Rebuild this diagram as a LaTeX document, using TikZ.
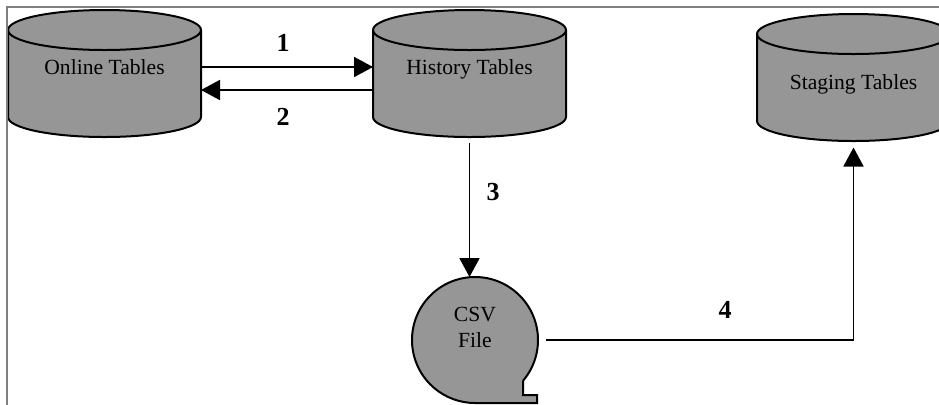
\documentclass[tikz,border=0pt]{standalone}
\usepackage{fontspec}
\setmainfont{Liberation Serif}
\usetikzlibrary{arrows.meta,backgrounds}
\definecolor{dbgray}{RGB}{150,150,150}
\definecolor{framegray}{RGB}{128,128,128}
\tikzset{
  dbtable/.style={rectangle, minimum width=96.5pt, minimum height=43.5pt,
    inner sep=0pt, outer sep=0pt, font=\fontsize{10.8}{13}\selectfont},
  dbshape/.style={fill=dbgray, draw, line width=1pt},
  csvfile/.style={circle, minimum size=63pt, inner sep=0pt, outer sep=0pt,
    align=center, font=\fontsize{10.8}{13}\selectfont},
  flow/.style={-{Triangle[length=9.5pt,width=10pt]}, line width=0.9pt},
  steplabel/.style={font=\fontsize{13}{15}\bfseries}
}
\begin{document}
\begin{tikzpicture}[x=0.5pt,y=-0.5pt]
      \useasboundingbox (0,0) rectangle (939,404);
      \clip (0,0) rectangle (939,404);
      \draw[framegray, line width=1pt] (7,410) -- (7,7) -- (945,7);
      \draw
        (104.5,73.5) node[dbtable, text height=7.5pt, text depth=6.8pt] (online){Online Tables}
        (469.5,73.5) node[dbtable, text height=7.5pt, text depth=6.8pt] (history){History Tables}
        (853.5,77.5) node[dbtable, text height=12pt, text depth=0.3pt] (staging){Staging Tables}
        (475,340) node[csvfile, text depth=13pt] (csv){CSV\\File};
      \begin{scope}[on background layer]
        \foreach \t in {online,history,staging} {
          \filldraw[dbshape] (\t.north west) -- (\t.south west)
            arc[start angle=180, end angle=360, x radius=48.25pt, y radius=10pt]
            -- (\t.north east)
            arc[start angle=0, end angle=180, x radius=48.25pt, y radius=10pt] -- cycle;
          \draw[line width=1pt] (\t.north west)
            arc[start angle=180, end angle=360, x radius=48.25pt, y radius=10pt];
        }
        \filldraw[dbshape] (csv.-40) arc[start angle=-40, end angle=270, radius=31.5pt]
          -- ++(31pt,0) -- ++(0,4pt) -- ++(-7pt,0) -- cycle;
      \end{scope}
      \begin{scope}[flow]
        \draw ([yshift=3.25pt]online.east) to ([yshift=3.25pt]history.west);
        \draw ([yshift=-8.25pt]history.west) to ([yshift=-8.25pt]online.east);
        \draw ([yshift=-13pt]history.south) to (history.south |- csv.north);
        \draw ([xshift=4pt]csv.east) -| ([yshift=-13.25pt]staging.south);
      \end{scope}
      \draw
        (283,43) node[steplabel] (s1){1}
        (283,117) node[steplabel] (s2){2}
        (493,192) node[steplabel] (s3){3}
        (725,310) node[steplabel] (s4){4};
    \end{tikzpicture}
\end{document}
